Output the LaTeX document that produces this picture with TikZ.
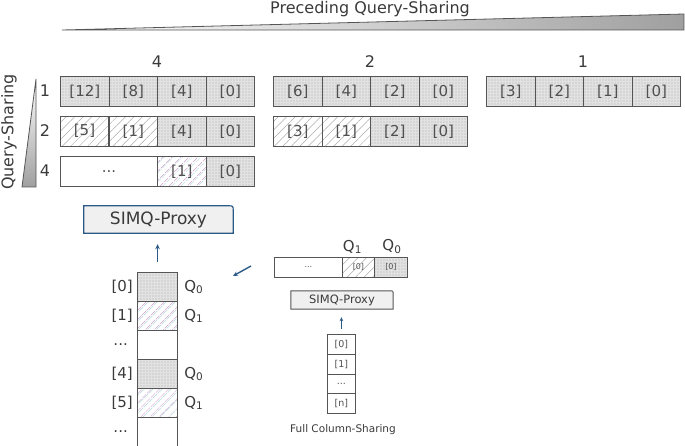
\documentclass[tikz,border=0pt]{standalone}
\usepackage{fontspec}
\setmainfont{DejaVu Sans}
\usetikzlibrary{patterns.meta,arrows.meta}
\pgfdeclarelayer{bg}
\pgfsetlayers{bg,main}
\definecolor{ink}{HTML}{3A3A3A}
\definecolor{cline}{HTML}{555555}
\definecolor{ctext}{HTML}{505050}
\definecolor{dotbg}{HTML}{E2E2E2}
\definecolor{dotfg}{HTML}{ABABAB}
\definecolor{blueline}{HTML}{2A5A85}
\definecolor{proxyfill}{HTML}{F0F0F0}
\begin{document}
\begin{tikzpicture}[x=1pt,y=-1pt,
  cell/.style={draw=cline, line width=1.1pt, minimum width=48.5pt, minimum height=30pt, inner sep=0pt, anchor=north west, text=ctext, font=\fontsize{15}{15}\selectfont},
  vcell/.style={draw=cline, line width=1.1pt, minimum width=40pt, minimum height=29pt, inner sep=0pt, anchor=north west},
  scell/.style={draw=cline, line width=0.9pt, minimum height=20pt, inner sep=0pt, anchor=north west, text=ctext, font=\fontsize{8}{8}\selectfont},
  tcell/.style={draw=cline, line width=0.9pt, minimum width=28pt, minimum height=19.75pt, inner sep=0pt, anchor=north west, text=ctext, font=\fontsize{9.5}{9.5}\selectfont},
  dotc/.style={preaction={fill=dotbg}, pattern={Dots[distance=3pt,radius=0.7pt]}, pattern color=dotfg},
  hatc/.style={pattern={Lines[angle=45,distance=6pt,line width=0.5pt]}, pattern color=gray!65},
  colc/.style={preaction={fill=white}, preaction={pattern={Lines[angle=45,distance=6.5pt,line width=0.6pt]}, pattern color=violet!45},
               preaction={pattern={Lines[angle=45,distance=6.5pt,line width=0.5pt,xshift=2pt]}, pattern color=teal!35}},
  lbl/.style={text=ink, font=\fontsize{15}{18}\selectfont, inner sep=0pt},
  arr/.style={draw=blueline, line width=1.4pt, -{Stealth[length=5pt,width=4.5pt]}},
  sarr/.style={draw=blueline, line width=1pt, -{Stealth[length=4pt,width=3.5pt]}}
]
\useasboundingbox (0,0) rectangle (685,446);

% title and wedges
\node[lbl, font=\fontsize{16}{18}\selectfont] (title) at (370,9) {Preceding Query-Sharing};
\draw[cline, line width=0.8pt, left color=white, right color=gray!75] (62,30) -- (684,14) -- (684,30) -- cycle;
\draw[cline, line width=0.8pt, top color=white, bottom color=gray!75] (36,79) -- (36,187) -- (22,187) -- cycle;
\node[lbl, font=\fontsize{16}{18}\selectfont, rotate=90] (qs) at (9,132) {Query-Sharing};

% column headers
\node[lbl, font=\fontsize{16}{18}\selectfont] (h4) at (157,62) {4};
\node[lbl, font=\fontsize{16}{18}\selectfont] (h2) at (370,62) {2};
\node[lbl, font=\fontsize{16}{18}\selectfont] (h1) at (583,62) {1};

% row labels
\node[lbl, font=\fontsize{16}{18}\selectfont] (r1) at (45,91) {1};
\node[lbl, font=\fontsize{16}{18}\selectfont] (r2) at (45,131) {2};
\node[lbl, font=\fontsize{16}{18}\selectfont] (r4) at (45,171) {4};

% row 1
\node[cell,dotc] (a11) at (60,76) {[12]};
\node[cell,dotc] (a12) at (108.5,76) {[8]};
\node[cell,dotc] (a13) at (157,76) {[4]};
\node[cell,dotc] (a14) at (205.5,76) {[0]};
\node[cell,dotc] (b11) at (273,76) {[6]};
\node[cell,dotc] (b12) at (321.5,76) {[4]};
\node[cell,dotc] (b13) at (370,76) {[2]};
\node[cell,dotc] (b14) at (418.5,76) {[0]};
\node[cell,dotc] (c11) at (486,76) {[3]};
\node[cell,dotc] (c12) at (534.5,76) {[2]};
\node[cell,dotc] (c13) at (583,76) {[1]};
\node[cell,dotc] (c14) at (631.5,76) {[0]};
% row 2
\node[cell,hatc] (a21) at (60,116) {[5]};
\node[cell,hatc] (a22) at (108.5,116) {[1]};
\node[cell,dotc] (a23) at (157,116) {[4]};
\node[cell,dotc] (a24) at (205.5,116) {[0]};
\node[cell,hatc] (b21) at (273,116) {[3]};
\node[cell,hatc] (b22) at (321.5,116) {[1]};
\node[cell,dotc] (b23) at (370,116) {[2]};
\node[cell,dotc] (b24) at (418.5,116) {[0]};
% row 3
\node[cell, minimum width=97pt] (a31) at (60,156) {...};
\node[cell,colc] (a32) at (157,156) {[1]};
\node[cell,dotc] (a33) at (205.5,156) {[0]};

% big proxy
\node[lbl, font=\fontsize{17}{18}\selectfont, minimum width=149pt, minimum height=27pt] (px) at (158.5,219.5) {SIMQ-Proxy};
\begin{pgfonlayer}{bg}
\draw[blueline, line width=1.2pt, fill=proxyfill] (px.south west) -- (px.north west) -- ([xshift=-5pt]px.north east) .. controls (px.north east) .. ([yshift=-5pt]px.north east) -- (px.south east) -- cycle;
\end{pgfonlayer}

% big column
\node[vcell,dotc] (v0) at (137,272) {};
\node[vcell,colc] (v1) at (137,301) {};
\node[vcell] (v2) at (137,330) {};
\node[vcell,dotc] (v3) at (137,359) {};
\node[vcell,colc] (v4) at (137,388) {};
\node[vcell] (v5) at (137,417) {};
\node[lbl, anchor=east] (l0) at ([xshift=-4pt]v0.west) {[0]};
\node[lbl, anchor=east] (l1) at ([xshift=-4pt]v1.west) {[1]};
\node[lbl, anchor=east] (l2) at ([xshift=-9pt]v2.west) {...};
\node[lbl, anchor=east] (l3) at ([xshift=-4pt]v3.west) {[4]};
\node[lbl, anchor=east] (l4) at ([xshift=-4pt]v4.west) {[5]};
\node[lbl, anchor=east] (l5) at ([xshift=-9pt]v5.west) {...};
\node[lbl, anchor=west] (q0) at ([xshift=6pt]v0.east) {Q\textsubscript{0}};
\node[lbl, anchor=west] (q1) at ([xshift=6pt]v1.east) {Q\textsubscript{1}};
\node[lbl, anchor=west] (q3) at ([xshift=6pt]v3.east) {Q\textsubscript{0}};
\node[lbl, anchor=west] (q4) at ([xshift=6pt]v4.east) {Q\textsubscript{1}};
\draw[arr, shorten <=10pt, shorten >=11pt] (v0.north) -- (v0.north |- px.south);

% diagonal arrow
\coordinate (d1) at (251,266);
\coordinate (d2) at (233,276);
\draw[arr] (d1) -- (d2);

% small bar
\node[scell, minimum width=68pt] (s1) at (274,257) {...};
\node[scell, minimum width=32pt, hatc] (s2) at (342,257) {[0]};
\node[scell, minimum width=33pt, dotc] (s3) at (374,257) {[0]};
\node[lbl, anchor=south] (sq1) at ([yshift=3pt, xshift=-6pt]s2.north) {Q\textsubscript{1}};
\node[lbl, anchor=south] (sq0) at ([yshift=3pt, xshift=1pt]s3.north) {Q\textsubscript{0}};

% small proxy
\node[lbl, font=\fontsize{11.5}{12}\selectfont, minimum width=102pt, minimum height=18pt] (spx) at (342,300) {SIMQ-Proxy};
\begin{pgfonlayer}{bg}
\draw[cline, line width=1pt, fill=proxyfill] (spx.south west) -- (spx.north west) -- ([xshift=-4pt]spx.north east) .. controls (spx.north east) .. ([yshift=-4pt]spx.north east) -- (spx.south east) -- cycle;
\end{pgfonlayer}

% small column
\node[tcell] (t0) at (327,334) {[0]};
\node[tcell] (t1) at (327,353.75) {[1]};
\node[tcell] (t2) at (327,373.5) {...};
\node[tcell] (t3) at (327,393.25) {[n]};
\draw[sarr, shorten <=5pt, shorten >=8pt] (t0.north) -- (t0.north |- spx.south);
\node[lbl, font=\fontsize{10.5}{12}\selectfont] (fcs) at (343,430) {Full Column-Sharing};
\end{tikzpicture}
\end{document}
